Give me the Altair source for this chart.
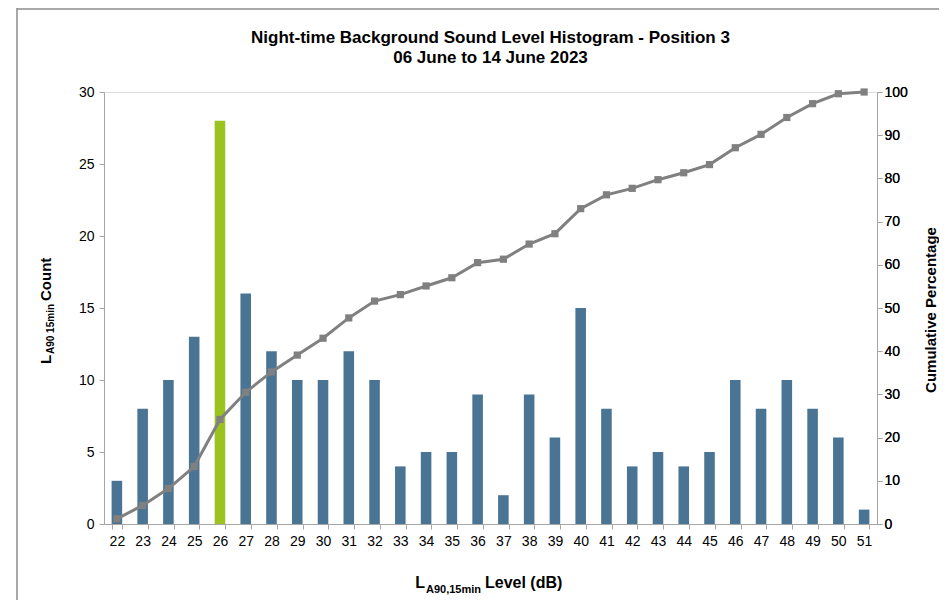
import altair as alt
import pandas as pd

# ---- data ----
levels = list(range(22, 52))
counts = [3, 8, 10, 13, 28, 16, 12, 10, 10, 12, 10, 4, 5, 5, 9, 2, 9, 6, 15, 8,
          4, 5, 4, 5, 10, 8, 10, 8, 6, 1]
cum_pct = [1.2, 4.3, 8.2, 13.3, 24.2, 30.5, 35.2, 39.1, 43.0, 47.7, 51.6, 53.1,
           55.1, 57.0, 60.5, 61.3, 64.8, 67.2, 73.0, 76.2, 77.7, 79.7, 81.3,
           83.2, 87.1, 90.2, 94.1, 97.3, 99.6, 100.0]
highlight_level = 26
left_ticks = [0, 5, 10, 15, 20, 25, 30]
right_ticks = [0, 10, 20, 30, 40, 50, 60, 70, 80, 90, 100]

title_1 = "Night-time Background Sound Level Histogram - Position 3"
title_2 = "06 June to 14 June 2023"

df = pd.DataFrame({"level": levels, "count": counts, "cum": cum_pct})
df["hl"] = ["mode" if l == highlight_level else "other" for l in levels]
one = pd.DataFrame({"a": [0]})

FONT = "Liberation Sans"
AX = "#a6a6a6"
BLUE = "#4a7494"
GREEN = "#9ac31f"
GREY = "#808080"

xenc = alt.X(
    "level:O",
    scale=alt.Scale(paddingInner=0.59, paddingOuter=0.295),
    axis=alt.Axis(title=None, labelAngle=0, tickBand="extent", tickSize=5,
                  labelFontSize=14, labelFont=FONT, labelColor="black",
                  domainColor=AX, tickColor=AX, labelPadding=5),
)

bars = alt.Chart(df).mark_bar().encode(
    x=xenc,
    y=alt.Y("count:Q", scale=alt.Scale(domain=[0, 30], nice=False),
            axis=alt.Axis(values=left_ticks, title=None, grid=False, tickSize=5,
                          labelFontSize=14, labelFont=FONT, labelColor="black",
                          domainColor=AX, tickColor=AX, labelPadding=5)),
    color=alt.Color("hl:N", scale=alt.Scale(domain=["mode", "other"],
                                            range=[GREEN, BLUE]), legend=None),
)

yright = alt.Y("cum:Q", scale=alt.Scale(domain=[0, 100], nice=False),
               axis=alt.Axis(orient="right", values=right_ticks, title=None,
                             grid=False, tickSize=5, labelFontSize=14,
                             labelFont=FONT, labelColor="black",
                             domainColor=AX, tickColor=AX, labelPadding=2))

line = alt.Chart(df).mark_line(color=GREY, strokeWidth=3).encode(x=xenc, y=yright)
pts = alt.Chart(df).mark_square(color=GREY, size=52, opacity=1).encode(x=xenc, y=yright)


def txt(text, x, y, size, angle=0, align="center", baseline="alphabetic"):
    return alt.Chart(one).mark_text(
        text=text, font=FONT, fontSize=size, fontWeight="bold", color="black",
        angle=angle, align=align, baseline=baseline,
    ).encode(x=alt.value(x), y=alt.value(y))


titles = [
    txt(title_1, 386.5, -54, 17, baseline="middle"),
    txt(title_2, 386.5, -34, 17, baseline="middle"),
    # left axis title (rotated)
    txt("L", -53, 272, 15, angle=270, align="left"),
    txt("A90 15min", -50, 262, 10, angle=270, align="left"),
    txt("Count", -53, 209, 15, angle=270, align="left"),
    # right axis title
    txt("Cumulative Percentage", 832, 218, 15, angle=270, align="center"),
    # x axis title
    txt("L", 321, 496, 16, align="right"),
    txt("A90,15min", 322, 501, 11, align="left"),
    txt("Level (dB)", 381, 496, 16, align="left"),
]

frame_left = alt.Chart(one).mark_rule(color="#8c8c8c", strokeWidth=1.5).encode(
    x=alt.value(-87), y=alt.value(-84), y2=alt.value(600))
frame_top = alt.Chart(one).mark_rule(color="#8c8c8c", strokeWidth=1.5).encode(
    x=alt.value(-87), x2=alt.value(900), y=alt.value(-83))

chart = alt.layer(
    bars, line, pts, *titles, frame_left, frame_top
).resolve_scale(y="independent").properties(
    width=773, height=432,
    autosize=alt.AutoSizeParams(type="none"),
    padding={"left": 96, "top": 84, "right": 62, "bottom": 76},
).configure_view(stroke=None).configure(font=FONT)

chart.save("out.html", embed_options={"renderer": "svg", "actions": False})
